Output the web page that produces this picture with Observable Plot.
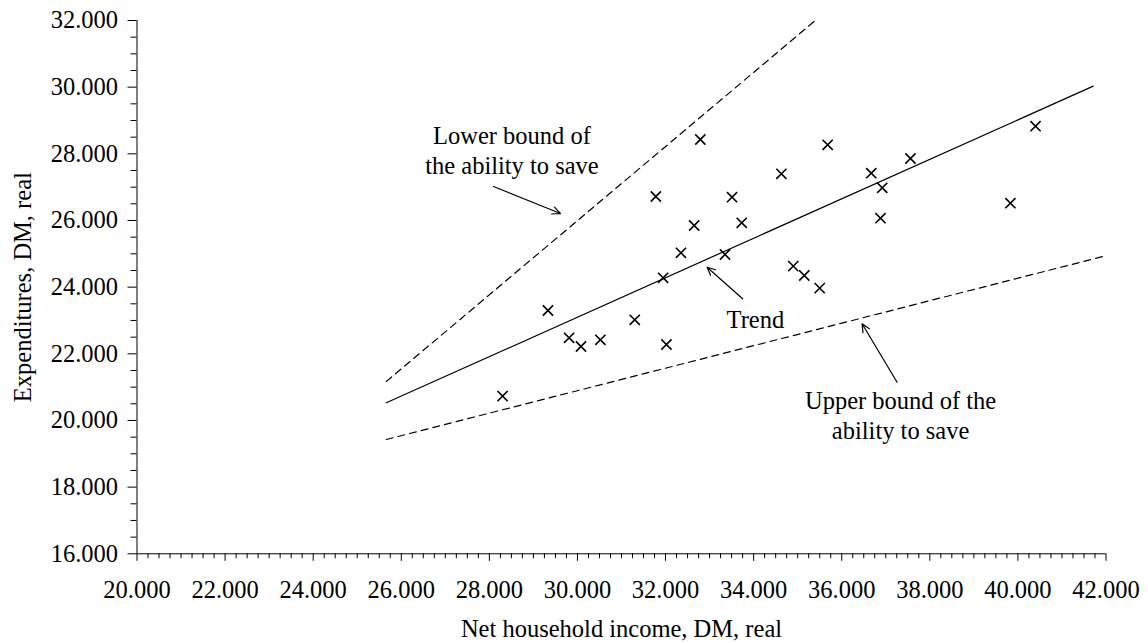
<!DOCTYPE html>
<html>
<head>
<meta charset="utf-8">
<script src="https://cdn.jsdelivr.net/npm/d3@7"></script>
<script src="https://cdn.jsdelivr.net/npm/@observablehq/plot@0.6"></script>
<style>
  html, body { margin: 0; padding: 0; background: #fff; }
  #chart svg { display: block; }
</style>
</head>
<body>
<div id="chart"></div>
<script>
// Observed households: net income (x) and expenditures (y), DM real
const income = [28300, 29330, 29810, 30080, 30520, 31300, 32020, 31945, 32350, 31780, 32650, 32790, 33350, 33510, 33730, 34630, 34900, 35150, 35500, 35680, 36670, 36920, 36880, 37560, 39830, 40400];
const expenditures = [20730, 23300, 22480, 22220, 22420, 23020, 22280, 24280, 25030, 26720, 25850, 28430, 24980, 26700, 25930, 27400, 24630, 24350, 23970, 28270, 27420, 26980, 26070, 27860, 26520, 28830];

// Lines (endpoints)
const lowerBoundX = [25660, 35400];
const lowerBoundY = [21170, 32000];
const trendX = [25660, 41710];
const trendY = [20530, 30030];
const upperBoundX = [25660, 41930];
const upperBoundY = [19430, 24920];

// Axis ticks
const xTicks = d3.range(20000, 42001, 2000);
const xMinor = d3.range(20000, 42001, 250).filter(d => d % 2000 !== 0);
const yTicks = d3.range(16000, 32001, 2000);
const yMinor = d3.range(16000, 32001, 500).filter(d => d % 2000 !== 0);

// Annotations
const labelTexts = ["Lower bound of\nthe ability to save", "Trend", "Upper bound of the\nability to save"];
const labelX = [28513, 34040, 37336];
const labelY = [28132, 23062, 20182];
const arrowFromX = [28093, 33750, 37257];
const arrowFromY = [27019, 23650, 21148];
const arrowToX = [29613, 32943, 36462];
const arrowToY = [26209, 24598, 22900];

const points = income.map((x, i) => ({x, y: expenditures[i]}));
const mkLine = (xs, ys) => xs.map((x, i) => ({x, y: ys[i]}));
const labels = labelTexts.map((t, i) => ({t, x: labelX[i], y: labelY[i]}));
const arrows = arrowFromX.map((x1, i) => ({x1, y1: arrowFromY[i], x2: arrowToX[i], y2: arrowToY[i]}));

const loc = d3.formatLocale({decimal: ",", thousands: ".", grouping: [3], currency: ["", ""]});
const fmt = loc.format(",.0f");

const plot = Plot.plot({
  width: 1148,
  height: 643,
  marginLeft: 136.5,
  marginRight: 42.5,
  marginTop: 20,
  marginBottom: 89.7,
  style: {fontFamily: "'Liberation Serif', 'Times New Roman', serif", fontSize: "24.5px", color: "#000", background: "#fff"},
  x: {domain: [20000, 42000]},
  y: {domain: [16000, 32000]},
  marks: [
    Plot.axisX(xMinor, {tickSize: 5, tickFormat: () => "", label: null}),
    Plot.axisX(xTicks, {tickSize: 7.5, tickPadding: 19, tickFormat: fmt, label: null}),
    Plot.axisY(yMinor, {tickSize: 6, tickFormat: () => "", label: null}),
    Plot.axisY(yTicks, {tickSize: 9, tickPadding: 10, tickFormat: fmt, label: null}),
    Plot.ruleX([20000], {stroke: "#000"}),
    Plot.ruleY([16000], {stroke: "#000"}),
    Plot.text(["Net household income, DM, real"], {frameAnchor: "bottom", textAnchor: "middle", lineAnchor: "middle", dy: 75, fill: "#000"}),
    Plot.text(["Expenditures, DM, real"], {frameAnchor: "left", textAnchor: "middle", lineAnchor: "middle", dx: -114, rotate: -90, fill: "#000"}),
    Plot.line(mkLine(lowerBoundX, lowerBoundY), {x: "x", y: "y", stroke: "#000", strokeWidth: 1.2, strokeDasharray: "7,5"}),
    Plot.line(mkLine(trendX, trendY), {x: "x", y: "y", stroke: "#000", strokeWidth: 1.2}),
    Plot.line(mkLine(upperBoundX, upperBoundY), {x: "x", y: "y", stroke: "#000", strokeWidth: 1.2, strokeDasharray: "7,5"}),
    Plot.dot(points, {x: "x", y: "y", symbol: "times", r: 4.7, stroke: "#000", strokeWidth: 1.6}),
    Plot.text(labels, {x: "x", y: "y", text: "t", lineHeight: 1.2, fill: "#000"}),
    Plot.arrow(arrows, {x1: "x1", y1: "y1", x2: "x2", y2: "y2", stroke: "#000", strokeWidth: 1.2, headLength: 11, headAngle: 50})
  ]
});
document.getElementById("chart").appendChild(plot);
</script>
</body>
</html>
